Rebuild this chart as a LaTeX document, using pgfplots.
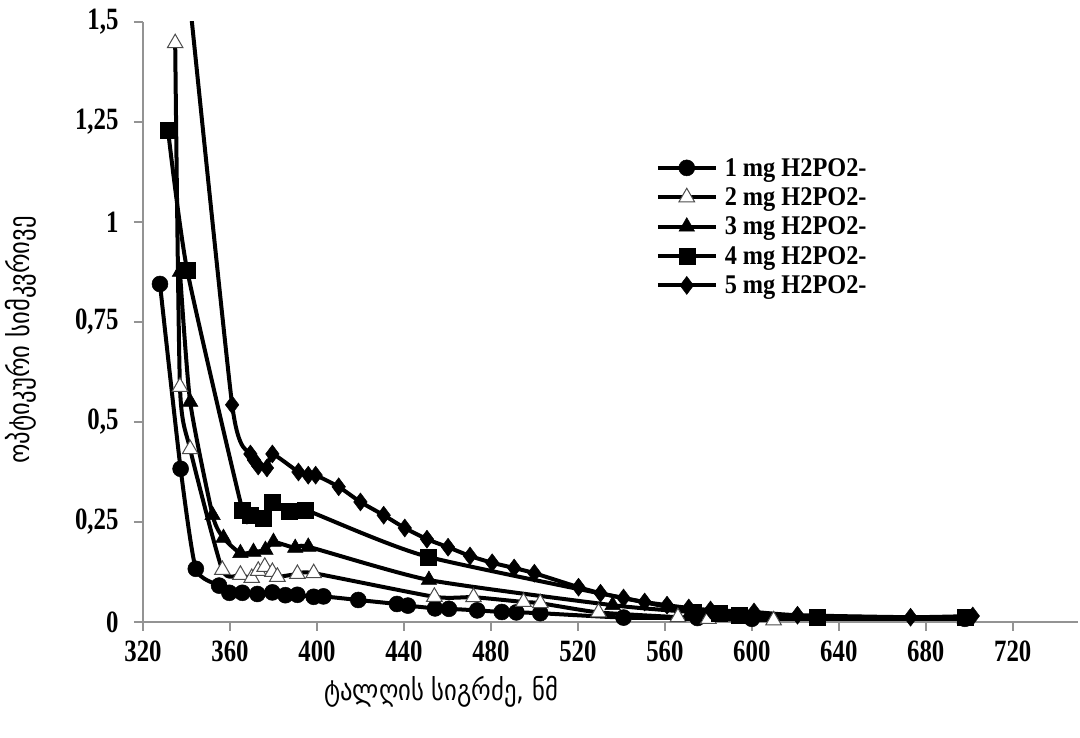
\documentclass[border=0pt]{standalone}
\usepackage{pgfplots}
\pgfplotsset{compat=1.18}
\usepackage{fontspec}
\setmainfont{Liberation Serif}
\newfontfamily\tickfont{Liberation Serif}[FakeStretch=0.8]
\newfontfamily\legfont{Liberation Serif}[FakeStretch=0.9]
\newfontfamily\geofont{DejaVu Sans}[FakeStretch=0.85]
\begin{document}
\begin{tikzpicture}
\useasboundingbox (-143pt,-116pt) rectangle (937pt,622pt);
\begin{axis}[
  at={(0pt,0pt)}, anchor=south west,
  scale only axis, width=935pt, height=600pt,
  xmin=320, xmax=750, ymin=0, ymax=1.5,
  axis lines=left,
  axis line style={-, draw=gray!85, line width=2.5pt},
  tick style={draw=gray!85, line width=2.5pt},
  tick align=outside, major tick length=9pt,
  xtick={320,360,400,440,480,520,560,600,640,680,720},
  xticklabels={320,360,400,440,480,520,560,600,640,680,720},
  ytick={0,0.25,0.5,0.75,1,1.25,1.5},
  yticklabels={0,{0,25},{0,5},{0,75},1,{1,25},{1,5}},
  ticklabel style={font=\tickfont\bfseries\fontsize{31}{31}\selectfont},
  xticklabel style={yshift=-6pt},
  yticklabel style={xshift=-12pt},
  xlabel={ტალღის სიგრძე, ნმ},
  xlabel style={at={(axis description cs:0.319,0)}, anchor=center, yshift=-70pt, font=\geofont\fontsize{29}{29}\selectfont},
  ylabel={ოპტიკური სიმკვრივე},
  ylabel style={anchor=center, font=\geofont\fontsize{29}{29}\selectfont},
  every axis y label/.append style={at={(axis description cs:-0.131,0.47)}},
  legend style={at={(axis description cs:0.545,0.78)}, anchor=north west, draw=none, fill=none,
    font=\legfont\bfseries\fontsize{27}{27}\selectfont, legend cell align=left, row sep=6pt,
    /tikz/every odd column/.append style={column sep=5pt}},
  legend image code/.code={\draw[mark repeat=2,mark phase=2,#1] plot coordinates {(0pt,0pt) (29pt,0pt) (58pt,0pt)};},
]
\addplot[black, line width=4pt, smooth, tension=0.35, mark=*, mark size=8pt, mark options={solid, fill=black, draw=black, line width=0.5pt}] coordinates {
(327.8,0.845) (337.3,0.383) (344.3,0.133) (355,0.091) (359.7,0.073) (365.7,0.073) (372.6,0.070) (379.5,0.074) (385.5,0.067) (391,0.068) (398.5,0.063) (403,0.064) (419,0.055) (436.8,0.045) (441.8,0.041) (454.3,0.034) (460.7,0.033) (473.7,0.029) (485,0.025) (491.7,0.024) (502.7,0.022) (541,0.011) (575,0.010) (600,0.008) (698,0.008)};
\addlegendentry{1 mg H2PO2-}
\addplot[black, line width=4pt, smooth, tension=0.35, mark=triangle*, mark size=9pt, mark options={solid, fill=white, draw=gray!60!black, line width=1pt}] coordinates {
(334.8,1.447) (337,0.588) (341.7,0.432) (356.5,0.130) (364.8,0.118) (370,0.110) (373,0.128) (376,0.138) (379.5,0.125) (381.8,0.113) (391,0.120) (398.5,0.122) (454,0.063) (472,0.062) (495,0.050) (502.7,0.047) (529.5,0.024) (566,0.012) (580,0.008) (610,0.004)};
\addlegendentry{2 mg H2PO2-}
\addplot[black, line width=4pt, smooth, tension=0.35, mark=triangle*, mark size=9pt, mark options={solid, fill=black, draw=black, line width=0.5pt}] coordinates {
(337,0.875) (341.7,0.55) (352,0.267) (357,0.21) (364.8,0.172) (370.8,0.175) (376.3,0.18) (380,0.20) (390,0.185) (396,0.188) (451.5,0.105) (536,0.042) (572,0.025) (600,0.015) (698,0.008)};
\addlegendentry{3 mg H2PO2-}
\addplot[black, line width=4pt, smooth, tension=0.35, mark=square*, mark size=8pt, mark options={solid, fill=black, draw=black, line width=0.5pt}] coordinates {
(331.5,1.23) (340.3,0.88) (365.7,0.28) (369.4,0.267) (375.4,0.26) (379.5,0.30) (387.4,0.278) (394.8,0.28) (451,0.163) (573,0.025) (585,0.022) (594,0.018) (630,0.013) (698,0.012)};
\addlegendentry{4 mg H2PO2-}
\addplot[black, line width=4pt, smooth, tension=0.35, mark=diamond*, mark size=9pt, mark options={solid, fill=black, draw=black, line width=0.5pt}] coordinates {
(338,1.74) (361,0.543) (369.4,0.42) (371,0.405) (373,0.39) (377,0.385) (379.5,0.42) (391.5,0.375) (396,0.367) (399.4,0.367) (410,0.338) (420,0.300) (430.7,0.267) (440.4,0.235) (450.6,0.207) (460.3,0.187) (470.4,0.165) (480.6,0.148) (490.7,0.135) (500,0.122) (520.3,0.087) (530.4,0.072) (541,0.060) (550.7,0.050) (561,0.042) (571,0.035) (581,0.030) (601,0.025) (621,0.017) (673,0.012) (701.6,0.015)};
\addlegendentry{5 mg H2PO2-}
\end{axis}
\end{tikzpicture}
\end{document}
